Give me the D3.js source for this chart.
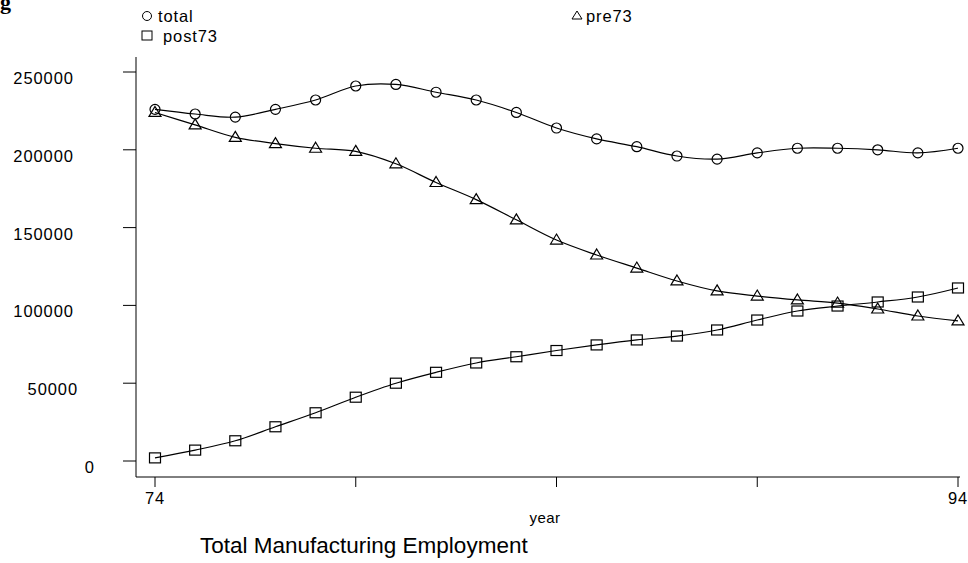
<!DOCTYPE html>
<html>
<head>
<meta charset="utf-8">
<script src="https://cdn.jsdelivr.net/npm/d3@7"></script>
<style>
  body { margin: 0; background: #fff; }
  svg { font-family: 'Liberation Sans', Arial, sans-serif; }
</style>
</head>
<body>
<div id="chart"></div>
<script>
const years = d3.range(74, 95);
const total = [226000, 223000, 221000, 226000, 232000, 241000, 242000, 237000, 232000, 224000,
  214000, 207000, 202000, 196000, 194000, 198000, 201000, 201000, 200000, 198000, 201000];
const pre73 = [224000, 216000, 208000, 204000, 201000, 199000, 191000, 179000, 168000, 155000,
  142000, 132400, 124000, 115700, 109300, 106000, 103500, 101500, 97700, 93200, 90000];
const post73 = [2000, 7000, 13000, 22000, 31000, 41000, 50000, 57000, 63000, 67000,
  71000, 74600, 77800, 80300, 84200, 90600, 96400, 99600, 102200, 105400, 111200];
const yTicks = [0, 50000, 100000, 150000, 200000, 250000];
const xTicks = [74, 79, 84, 89, 94];
const xLabels = { 74: '74', 94: '94' };

const WIDTH = 968;
const HEIGHT = 563;
const FS = 16.5;
const LS = 0.9;

const svg = d3.select('#chart').append('svg')
  .attr('width', WIDTH).attr('height', HEIGHT);

const x = d3.scaleLinear().domain([74, 94]).range([155, 958]);
const y = d3.scaleLinear().domain([0, 250000]).range([461, 72]);

// axes
svg.append('line').attr('x1', 136).attr('x2', 136).attr('y1', 57).attr('y2', 477)
  .attr('stroke', '#000').attr('stroke-width', 1);
svg.append('line').attr('x1', 136).attr('x2', 960).attr('y1', 477).attr('y2', 477)
  .attr('stroke', '#000').attr('stroke-width', 1);

yTicks.forEach((t) => {
  svg.append('line').attr('x1', 123).attr('x2', 136).attr('y1', y(t)).attr('y2', y(t))
    .attr('stroke', '#000');
  const len = String(t).length;
  svg.append('text').attr('x', 78 + (5 - len) * 4.2).attr('y', y(t) + 12)
    .attr('text-anchor', 'end').attr('font-size', FS).attr('letter-spacing', LS).text(t);
});

xTicks.forEach((t) => {
  svg.append('line').attr('x1', x(t)).attr('x2', x(t)).attr('y1', 477).attr('y2', 487)
    .attr('stroke', '#000');
  if (xLabels[t]) {
    svg.append('text').attr('x', x(t)).attr('y', 504).attr('text-anchor', 'middle')
      .attr('font-size', FS).attr('letter-spacing', LS).text(xLabels[t]);
  }
});

const line = d3.line().x((d, i) => x(years[i])).y((d) => y(d)).curve(d3.curveCatmullRom);

const symbols = {
  circle: (g, cx, cy) => g.append('circle').attr('cx', cx).attr('cy', cy).attr('r', 5),
  square: (g, cx, cy) => g.append('rect').attr('x', cx - 5.5).attr('y', cy - 5).attr('width', 11).attr('height', 10),
  triangle: (g, cx, cy) => g.append('path')
    .attr('d', `M${cx},${cy - 6}L${cx + 6},${cy + 4}L${cx - 6},${cy + 4}Z`),
};

function drawSeries(data, sym) {
  svg.append('path').attr('d', line(data)).attr('fill', 'none')
    .attr('stroke', '#000').attr('stroke-width', 1.2);
  const g = svg.append('g').attr('fill', 'none').attr('stroke', '#000').attr('stroke-width', 1.2);
  data.forEach((d, i) => symbols[sym](g, x(years[i]), y(d)));
}
drawSeries(total, 'circle');
drawSeries(pre73, 'triangle');
drawSeries(post73, 'square');

// legend
const lg = svg.append('g').attr('fill', 'none').attr('stroke', '#000').attr('stroke-width', 1);
symbols.circle(lg, 147, 16).attr('r', 4.5);
symbols.square(lg, 147, 35).attr('width', 10).attr('height', 9).attr('x', 142).attr('y', 31);
symbols.triangle(lg, 577, 16).attr('d', 'M577,11L582,19L572,19Z');
svg.append('text').attr('x', 158).attr('y', 22).attr('font-size', FS).attr('letter-spacing', LS).text('total');
svg.append('text').attr('x', 163).attr('y', 42).attr('font-size', FS).attr('letter-spacing', LS).text('post73');
svg.append('text').attr('x', 586).attr('y', 22).attr('font-size', FS).attr('letter-spacing', LS).text('pre73');

svg.append('text').attr('x', 0).attr('y', 9).attr('font-family', 'Liberation Serif, serif')
  .attr('font-weight', 'bold').attr('font-size', 22).text('g');

svg.append('text').attr('x', 545).attr('y', 523).attr('text-anchor', 'middle')
  .attr('font-size', 15).attr('letter-spacing', 0.5).text('year');
svg.append('text').attr('x', 200).attr('y', 553).attr('font-size', 22.5)
  .text('Total Manufacturing Employment');
</script>
</body>
</html>
